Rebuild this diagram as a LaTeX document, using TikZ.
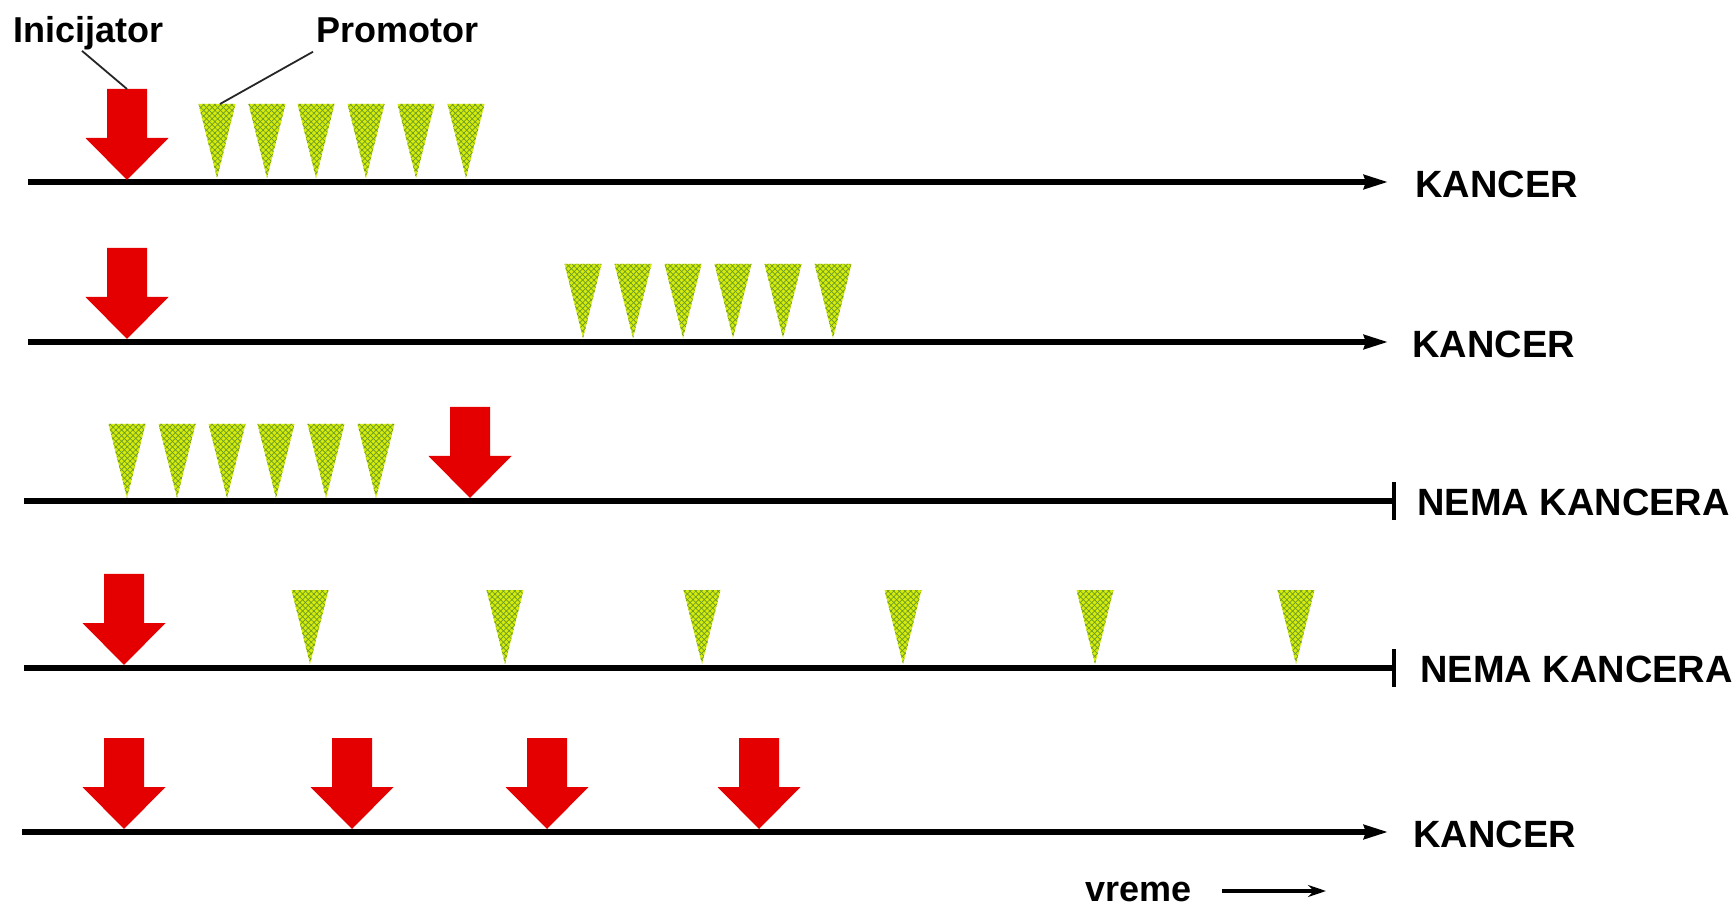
\documentclass[tikz,border=0pt]{standalone}
\usepackage{fontspec}
\setmainfont{Liberation Sans}
\usetikzlibrary{arrows.meta,patterns.meta}
\definecolor{arrred}{RGB}{228,0,0}
\definecolor{trifill}{RGB}{214,236,10}
\definecolor{trihatch}{RGB}{105,155,40}
\tikzset{
 timeline/.style={line width=2.6pt, black},
 goes/.style={timeline, -{Stealth[length=12pt,width=7pt,inset=1pt]}},
 stops/.style={timeline, -{Bar[width=19pt,line width=2.2pt]}},
 outcome/.style={anchor=west, inner sep=0pt, font=\fontsize{19}{22}\selectfont\bfseries},
 labeltext/.style={anchor=base west, inner sep=0pt, font=\fontsize{18}{21}\selectfont\bfseries},
 leader/.style={line width=0.9pt, black!85},
 redarrow/.pic={\fill[arrred] (0,0) -- (-41.5,-42) -- (-20,-42) -- (-20,-91) -- (20,-91) -- (20,-42) -- (41.5,-42) -- cycle; \coordinate (-top) at (0,-91);},
 promo/.pic={\path[fill=trifill,
   postaction={pattern={Lines[angle=45,distance=2pt,line width=0.35pt]}, pattern color=trihatch},
   postaction={pattern={Lines[angle=-45,distance=2pt,line width=0.35pt]}, pattern color=trihatch}]
   (0,0) -- (-18.5,-74) -- (18.5,-74) -- cycle; \coordinate (-top) at (0,-74);}
}
\begin{document}
\begin{tikzpicture}[x=0.5pt, y=-0.5pt]
\useasboundingbox (0,0) rectangle (1734,908);
% labels
\node[labeltext] (ini) at (13,43) {Inicijator};
\node[labeltext] (pro) at (316,43) {Promotor};
% row 1
\coordinate (s1) at (28,182); \coordinate (e1) at (1388,182);
\draw[goes] (s1) -- (e1);
\node[outcome] (o1) at (1415,184) {KANCER};
\pic (r1) at (127,180) {redarrow};
\foreach \x [count=\i] in {217,267,316,366,416,466} {\pic (p1\i) at (\x,178) {promo};}
% row 2
\coordinate (s2) at (28,342); \coordinate (e2) at (1388,342);
\draw[goes] (s2) -- (e2);
\node[outcome] (o2) at (1412,344) {KANCER};
\pic (r2) at (127,339) {redarrow};
\foreach \x [count=\i] in {583,633,683,733,783,833} {\pic (p2\i) at (\x,338) {promo};}
% row 3
\coordinate (s3) at (24,501); \coordinate (e3) at (1396,501);
\draw[stops] (s3) -- (e3);
\node[outcome] (o3) at (1417,502) {NEMA KANCERA};
\foreach \x [count=\i] in {127,177,227,276,326,376} {\pic (p3\i) at (\x,498) {promo};}
\pic (r3) at (470,498) {redarrow};
% row 4
\coordinate (s4) at (24,668); \coordinate (e4) at (1396,668);
\draw[stops] (s4) -- (e4);
\node[outcome] (o4) at (1420,669) {NEMA KANCERA};
\pic (r4) at (124,665) {redarrow};
\foreach \x [count=\i] in {310,505,702,903,1095,1296} {\pic (p4\i) at (\x,664) {promo};}
% row 5
\coordinate (s5) at (22,832); \coordinate (e5) at (1388,832);
\draw[goes] (s5) -- (e5);
\node[outcome] (o5) at (1413,834) {KANCER};
\foreach \x [count=\i] in {124,352,547,759} {\pic (r5\i) at (\x,829) {redarrow};}
% leaders
\draw[leader] ([xshift=34.5pt]ini.south west) -- (r1-top);
\draw[leader] ([shift={(-1.5pt,-4pt)}]pro.south west) -- ([xshift=1.5pt]p11-top);
% time
\node[labeltext] (vr) at (1085,901) {vreme};
\coordinate (ve) at (1326,891);
\draw[line width=1.6pt, -{Stealth[length=9pt,width=6pt]}] ([xshift=15pt]vr.east |- ve) -- (ve);
\end{tikzpicture}
\end{document}
